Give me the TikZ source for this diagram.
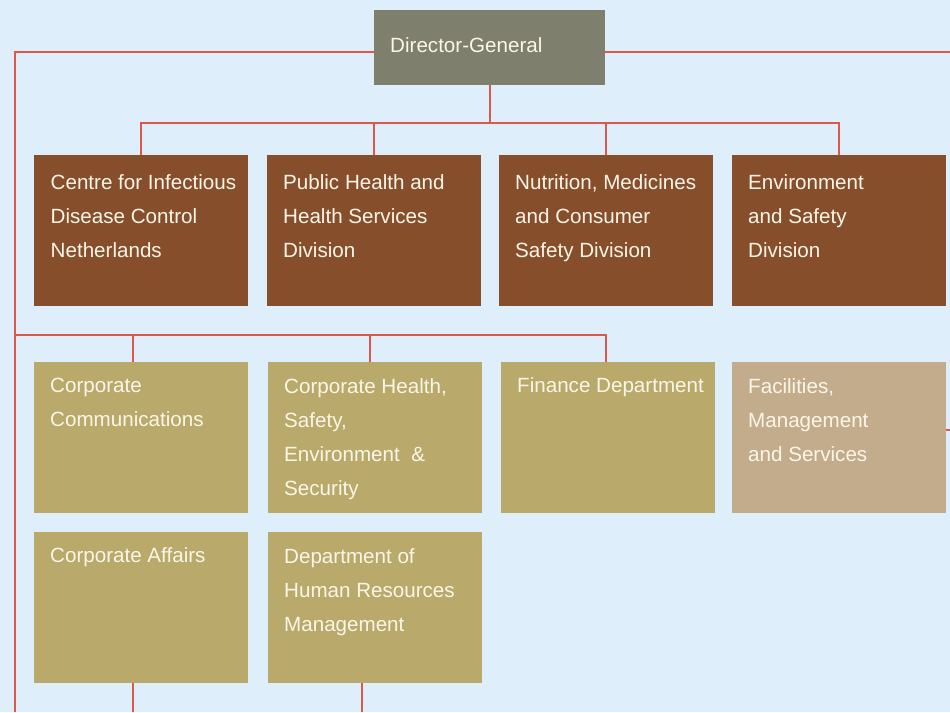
\documentclass[tikz,border=0pt]{standalone}
\usepackage{fontspec}
\setmainfont{Liberation Sans}
\definecolor{bgc}{HTML}{DEEEFA}
\definecolor{dgc}{HTML}{7E7F6D}
\definecolor{brownc}{HTML}{874E2B}
\definecolor{olivec}{HTML}{B9A96A}
\definecolor{tanc}{HTML}{C3AC8C}
\definecolor{txtc}{HTML}{FBF6E8}
\definecolor{linec}{HTML}{DC5848}
\begin{document}
\begin{tikzpicture}[x=1pt,y=-1pt,
  box/.style={draw=none,inner sep=0pt,anchor=north west,minimum width=214pt,minimum height=151pt},
  lbl/.style={inner sep=0pt,anchor=north west,align=left,text=txtc,font=\fontsize{20.6}{34}\selectfont,
    execute at begin node={\rule{0pt}{17pt}}},
  mlbl/.style={lbl,yshift=-3pt},
  link/.style={draw=linec,line width=2pt}]
\fill[bgc] (0,0) rectangle (950,712);
\useasboundingbox (0,0) rectangle (950,712);
% director
\node[box,fill=dgc,minimum width=231pt,minimum height=75pt] (dg) at (374,10) {};
\node[lbl] (dgt) at (390,52-17) {Director-General};
% row 1
\node[box,fill=brownc] (a1) at (34,155) {};
\node[box,fill=brownc] (a2) at (267,155) {};
\node[box,fill=brownc] (a3) at (499,155) {};
\node[box,fill=brownc] (a4) at (732,155) {};
\node[mlbl] (a1t) at (50.5,188-17) {Centre for Infectious\\Disease Control\\Netherlands};
\node[mlbl] (a2t) at (283,188-17) {Public Health and\\Health Services\\Division};
\node[mlbl] (a3t) at (515,188-17) {Nutrition, Medicines\\and Consumer\\Safety Division};
\node[mlbl] (a4t) at (748,188-17) {Environment\\and Safety\\Division};
% row 2
\node[box,fill=olivec] (c1) at (34,362) {};
\node[box,fill=olivec] (c2) at (268,362) {};
\node[box,fill=olivec] (c3) at (501,362) {};
\node[box,fill=tanc] (c4) at (732,362) {};
\node[mlbl] (c1t) at (50,392-17) {Corporate\\Communications};
\node[mlbl] (c2t) at (284,392-17) {Corporate Health,\\Safety,\\Environment~~\&\\Security};
\node[lbl] (c3t) at (517,392-17) {Finance Department};
\node[mlbl] (c4t) at (748,392-17) {Facilities,\\Management\\and Services};
% row 3
\node[box,fill=olivec] (e1) at (34,532) {};
\node[box,fill=olivec] (e2) at (268,532) {};
\node[lbl] (e1t) at (50,562-17) {Corporate Affairs};
\node[mlbl] (e2t) at (284,562-17) {Department of\\Human Resources\\Management};
% connectors
\coordinate (tl) at (15,52);
\coordinate (tr) at (950,52);
\coordinate (bl) at (15,712);
\coordinate (b1) at (490,123);
\coordinate (m1) at (15,335);
\coordinate (m2) at (606,335);
\coordinate (fr) at (950,430);
\draw[link] (dg.west |- tl) -- (tl) -- (bl);
\draw[link] (dg.east |- tr) -- (tr);
\draw[link] (dg.south -| b1) -- (b1);
\draw[link] (a1.north) -- (a1.north |- b1) -- (a4.north |- b1) -- (a4.north);
\draw[link] (a2.north) -- (a2.north |- b1);
\draw[link] (a3.north) -- (a3.north |- b1);
\draw[link] (m1) -- (m2) -- (m2 |- c3.north);
\draw[link] (133,335) -- (c1.north -| 133,0);
\draw[link] (370,335) -- (c2.north -| 370,0);
\draw[link] (c4.east |- fr) -- (fr);
\draw[link] (e1.south -| 133,0) -- (133,712);
\draw[link] (e2.south -| 362,0) -- (362,712);
\end{tikzpicture}
\end{document}
